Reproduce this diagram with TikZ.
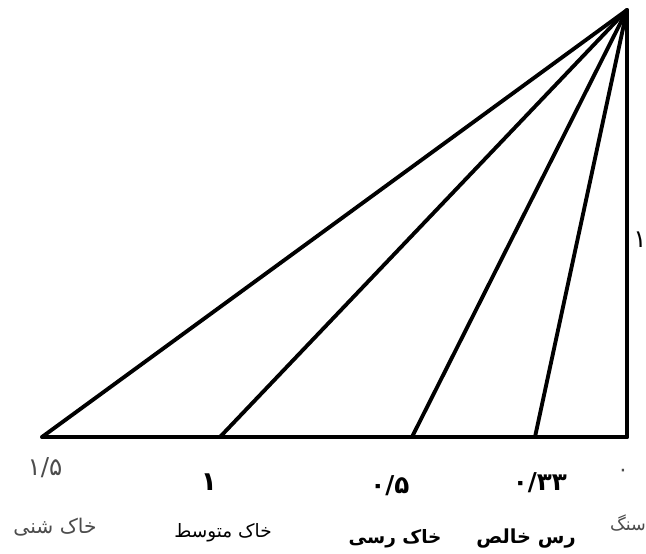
\documentclass[tikz,border=0pt]{standalone}
\usepackage{fontspec}
\newfontfamily\arabicfont[Script=Arabic]{DejaVu Sans}
\TeXXeTstate=1
\usepackage{tikz}
\usepackage{tkz-euclide}

\tikzset{
  soil/.style={font=\arabicfont\fontsize{10.5}{12}\selectfont, inner sep=1pt},
  soilbold/.style={font=\arabicfont\bfseries\fontsize{10.5}{12}\selectfont, inner sep=1pt},
  ratio/.style={font=\arabicfont\fontsize{14}{16}\selectfont, inner sep=1pt},
  ratiobold/.style={font=\arabicfont\bfseries\fontsize{14}{16}\selectfont, inner sep=1pt},
  faint/.style={text=black!70}
}

\begin{document}
\begin{tikzpicture}
      \useasboundingbox (0,0) rectangle (12.92,11.08);
      % 1. rock apex and the base of the triangle
      \tkzDefPoint(12.54,10.88){T}
      \tkzDefPoint(0.84,2.34){S}
      \tkzDefPoint(12.54,2.34){R}

      % 2. feet of the soil lines on the base
      \tkzDefPoint(4.40,2.34){M}
      \tkzDefPoint(8.24,2.34){C}
      \tkzDefPoint(10.70,2.34){P}

      % 3. triangle and the fan of lines
      \tkzDrawSegments[black, line width=2.2pt, line cap=round](S,R R,T T,S)
      \tkzDrawSegments[black, line width=2.2pt](T,M T,C T,P)

      % 4. ratios under the base
      \node[ratio, faint] (r15) at (0.90,1.72) {۱/۵};
      \node[ratiobold, font=\arabicfont\bfseries\fontsize{15}{17}\selectfont] (r1) at (4.18,1.44) {۱};
      \node[ratiobold] (r05) at (7.80,1.36) {۰/۵};
      \node[ratiobold] (r033) at (10.80,1.42) {۰/۳۳};
      \node[ratio, faint, font=\arabicfont\fontsize{12}{14}\selectfont] (r0) at (12.46,1.62) {۰};
      \node[ratio] (rside) at (12.80,6.28) {۱};

      % 5. soil names
      \node[soil, faint, font=\arabicfont\fontsize{11.5}{13}\selectfont] (sandy) at (1.10,0.54) {\beginR خاک شنی\endR};
      \node[soil] (medium) at (4.46,0.42) {\beginR خاک متوسط\endR};
      \node[soilbold] (clayey) at (7.90,0.30) {\beginR خاک رسی\endR};
      \node[soilbold, font=\arabicfont\bfseries\fontsize{11}{13}\selectfont] (clay) at (10.52,0.30) {\beginR رس خالص\endR};
      \node[soil, faint, font=\arabicfont\fontsize{10}{12}\selectfont] (rock) at (12.56,0.62) {\beginR سنگ\endR};
\end{tikzpicture}
\end{document}
